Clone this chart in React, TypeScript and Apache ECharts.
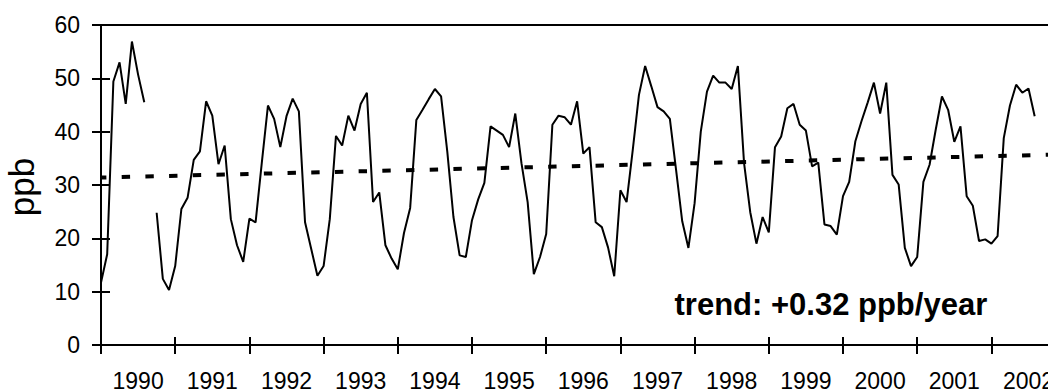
import React, { useEffect, useRef } from "react";
import * as echarts from "echarts";

const years = ["1990", "1991", "1992", "1993", "1994", "1995", "1996", "1997", "1998", "1999", "2000", "2001", "2002"];

// monthly ozone (ppb), Jan 1990 .. Aug 2002; null = missing month
const ozone1990 = [11.7, 17.0, 49.4, 53.0, 45.2, 56.9, 50.7, 45.5, null, 24.8, 12.4, 10.3];
const ozone1991 = [14.8, 25.5, 27.6, 34.7, 36.3, 45.7, 43.0, 33.9, 37.4, 23.6, 18.7, 15.6];
const ozone1992 = [23.7, 23.0, 34.1, 44.9, 42.4, 37.1, 42.9, 46.2, 43.8, 23.0, 18.0, 13.0];
const ozone1993 = [14.8, 23.6, 39.2, 37.4, 43.0, 40.2, 45.2, 47.3, 26.8, 28.6, 18.7, 16.2];
const ozone1994 = [14.2, 21.0, 25.7, 42.2, 44.1, 46.1, 48.0, 46.6, 36.3, 24.0, 16.8, 16.5];
const ozone1995 = [23.4, 27.3, 30.4, 41.0, 40.2, 39.4, 37.1, 43.4, 34.1, 26.8, 13.3, 16.5];
const ozone1996 = [20.8, 41.3, 43.0, 42.7, 41.3, 45.7, 35.9, 37.1, 23.0, 22.1, 18.3, 12.9];
const ozone1997 = [29.0, 26.8, 36.6, 46.9, 52.3, 48.5, 44.6, 43.8, 42.4, 32.9, 23.2, 18.2];
const ozone1998 = [26.6, 40.0, 47.5, 50.5, 49.2, 49.2, 48.0, 52.3, 34.1, 24.9, 19.0, 24.0];
const ozone1999 = [21.1, 37.1, 39.1, 44.4, 45.2, 41.3, 40.2, 33.5, 34.2, 22.6, 22.3, 20.7];
const ozone2000 = [27.9, 30.6, 38.2, 42.0, 45.5, 49.2, 43.4, 49.2, 31.9, 30.1, 18.2, 14.8];
const ozone2001 = [16.5, 30.6, 33.8, 40.4, 46.6, 44.1, 38.1, 41.0, 27.9, 26.1, 19.5, 19.8];
const ozone2002 = [19.0, 20.4, 38.8, 44.9, 48.8, 47.3, 48.1, 42.9];

// trend line end points (month index, ppb)
const trendPoints = [
  [0, 31.4],
  [156, 35.75],
];

const yTicks = { min: 0, max: 60, interval: 10 };
const trendLabel = "trend: +0.32 ppb/year";
const yName = "ppb";

const FONT = "'Liberation Sans', Arial, Helvetica, sans-serif";

export default function App() {
  const ref = useRef<HTMLDivElement>(null);

  useEffect(() => {
    if (!ref.current) return;
    const chart = echarts.init(ref.current, null, { renderer: "svg" });
    const ozone = [
      ...ozone1990, ...ozone1991, ...ozone1992, ...ozone1993, ...ozone1994, ...ozone1995, ...ozone1996,
      ...ozone1997, ...ozone1998, ...ozone1999, ...ozone2000, ...ozone2001, ...ozone2002,
    ];
    const lineData = ozone.map((v, i) => [i, v === null ? "-" : v]);

    const tickStyle = { color: "#000", width: 2 };

    chart.setOption({
      animation: false,
      backgroundColor: "#fff",
      grid: {
        left: 101,
        top: 25,
        width: 964.6,
        height: 321,
        show: true,
        borderColor: "#000",
        borderWidth: 2,
        backgroundColor: "transparent",
      },
      xAxis: [
        {
          type: "category",
          data: years,
          position: "bottom",
          boundaryGap: true,
          axisLine: { show: true, onZero: false, lineStyle: { color: "#000", width: 2 } },
          axisTick: { show: true, interval: 0, length: 9, lineStyle: tickStyle },
          axisLabel: { interval: 0, color: "#000", fontSize: 23, fontFamily: FONT, margin: 24 },
          splitLine: { show: false },
        },
        {
          type: "category",
          data: years,
          position: "bottom",
          boundaryGap: true,
          axisLine: { show: false, onZero: false },
          axisTick: { show: true, inside: true, interval: 0, length: 8, lineStyle: tickStyle },
          axisLabel: { show: false },
          splitLine: { show: false },
        },
        {
          type: "value",
          min: 0,
          max: 156,
          show: false,
          splitLine: { show: false },
        },
      ],
      yAxis: [
        {
          type: "value",
          min: yTicks.min,
          max: yTicks.max,
          interval: yTicks.interval,
          position: "left",
          axisLine: { show: true, onZero: false, lineStyle: { color: "#000", width: 2 } },
          axisTick: { show: true, length: 9, lineStyle: tickStyle },
          axisLabel: { color: "#000", fontSize: 23, fontFamily: FONT, margin: 21 },
          splitLine: { show: false },
        },
        {
          type: "value",
          min: yTicks.min,
          max: yTicks.max,
          interval: yTicks.interval,
          position: "left",
          axisLine: { show: false, onZero: false },
          axisTick: { show: true, inside: true, length: 9, lineStyle: tickStyle },
          axisLabel: { show: false },
          splitLine: { show: false },
        },
      ],
      series: [
        {
          type: "line",
          xAxisIndex: 2,
          yAxisIndex: 0,
          data: lineData,
          symbol: "none",
          showSymbol: false,
          connectNulls: false,
          lineStyle: { color: "#000", width: 2 },
          z: 2,
        },
        {
          type: "line",
          xAxisIndex: 2,
          yAxisIndex: 0,
          data: trendPoints,
          symbol: "none",
          showSymbol: false,
          lineStyle: { color: "#000", width: 4, type: [8.4, 15.3], dashOffset: 2.7, cap: "butt" },
          z: 3,
        },
      ],
      graphic: [
        {
          type: "text",
          x: 21.7,
          y: 187,
          rotation: Math.PI / 2,
          style: {
            text: yName,
            fill: "#000",
            fontSize: 35,
            fontFamily: FONT,
            align: "center",
            verticalAlign: "middle",
          },
        },
        {
          type: "text",
          x: 674.5,
          y: 304,
          style: {
            text: trendLabel,
            fill: "#000",
            fontSize: 31,
            fontWeight: "bold",
            fontFamily: FONT,
            align: "left",
            verticalAlign: "middle",
          },
        },
      ],
    });
    return () => chart.dispose();
  }, []);

  return (
    <div
      style={{
        position: "absolute",
        left: 0,
        top: 0,
        width: 1048,
        height: 392,
        overflow: "hidden",
        background: "#fff",
      }}
    >
      <div ref={ref} style={{ width: 1100, height: 392 }} />
    </div>
  );
}
